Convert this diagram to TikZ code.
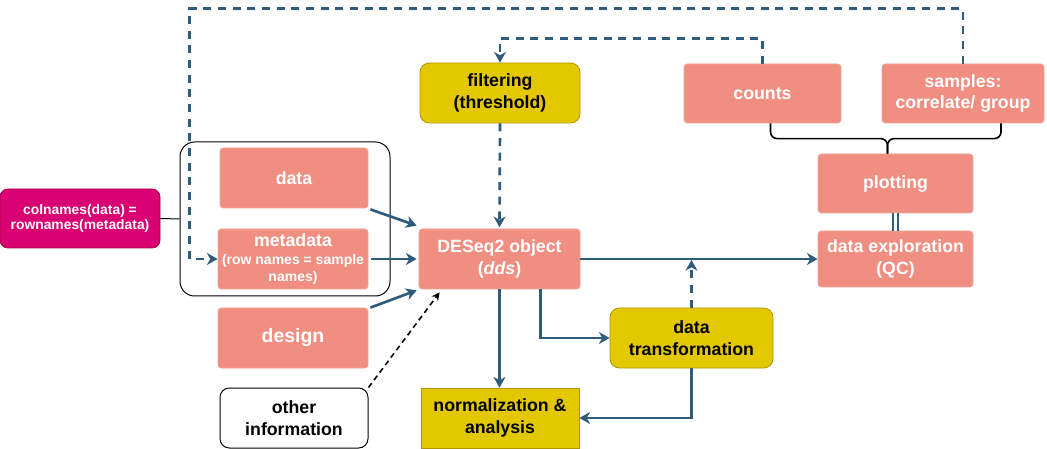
\documentclass[tikz,border=0pt]{standalone}
\usepackage{fontspec}
\setmainfont{Liberation Sans}
\usetikzlibrary{arrows.meta,calc}
\definecolor{salmon}{HTML}{F08E81}
\definecolor{salmonb}{HTML}{F3A397}
\definecolor{magent}{HTML}{D80073}
\definecolor{magentb}{HTML}{A50040}
\definecolor{ylw}{HTML}{E3C800}
\definecolor{ylwb}{HTML}{B09500}
\definecolor{flow}{HTML}{2F5B7C}
\newcommand\subfnt{\fontsize{10.5}{12.5}\selectfont}
\tikzset{
  base/.style={inner sep=0pt, align=center, font=\bfseries\fontsize{13.3}{16}\selectfont},
  pinkbox/.style={base, fill=salmon, draw=salmonb, line width=0.6pt, rounded corners=2.5pt, text=white},
  yelbox/.style={base, fill=ylw, draw=ylwb, line width=0.6pt, rounded corners=7pt, text=black},
  sqyel/.style={base, fill=ylw, draw=ylwb, line width=0.6pt, text=black},
  magbox/.style={base, fill=magent, draw=magentb, line width=0.6pt, rounded corners=6pt, text=white,
     font=\bfseries\fontsize{10.4}{11.5}\selectfont},
  whitebox/.style={base, fill=white, draw=black, line width=0.75pt, rounded corners=7pt, text=black},
  flowarrow/.style={draw=flow, line width=2pt, -{Stealth[length=8pt,width=9pt,inset=2.5pt]}},
  flowdash/.style={flowarrow, dash pattern=on 6pt off 5pt},
  blkdash/.style={draw=black, line width=1.2pt, dash pattern=on 4pt off 3pt, -{Stealth[length=6pt,width=6pt,inset=2pt]}},
}
\begin{document}
\begin{tikzpicture}[x=0.75pt,y=-0.75pt]
\useasboundingbox[fill=white] (0,0) rectangle (1047,449);
% group
\node[draw=black, line width=0.75pt, rounded corners=11pt, minimum width=157.5pt, minimum height=115.5pt] (group) at (285,219) {};
% nodes
\node[magbox, minimum width=120pt, minimum height=44.25pt] (coln) at (80,218.5) {colnames(data) =\\rownames(metadata)};
\node[pinkbox, minimum width=111pt, minimum height=45pt] (data) at (294,178) {data};
\node[pinkbox, minimum width=112.5pt, minimum height=45pt] (meta) at (293,259) {metadata\\[-2pt]{\subfnt (row names = sample}\\[-3.5pt]{\subfnt names)}};
\node[pinkbox, minimum width=112.5pt, minimum height=45pt, font=\bfseries\fontsize{14.6}{17}\selectfont] (design) at (293,338) {design};
\node[whitebox, minimum width=111pt, minimum height=45pt] (other) at (294,418) {other\\information};
\node[yelbox, minimum width=120pt, minimum height=45pt] (filt) at (500,93) {filtering\\(threshold)};
\node[pinkbox, minimum width=120.75pt, minimum height=45pt] (dds) at (499.5,259) {DESeq2 object\\(\textit{dds})};
\node[sqyel, minimum width=118.5pt, minimum height=45pt] (norm) at (500,418) {normalization \&\\analysis};
\node[yelbox, minimum width=122.25pt, minimum height=45pt] (trans) at (691.5,338) {data\\transformation};
\node[pinkbox, minimum width=117.75pt, minimum height=44.25pt] (counts) at (762.5,93.5) {counts};
\node[pinkbox, minimum width=121.5pt, minimum height=44.25pt] (samples) at (963,93.5) {samples:\\correlate/ group};
\node[pinkbox, minimum width=116.25pt, minimum height=44.25pt] (plot) at (895.5,183.5) {plotting};
\node[pinkbox, minimum width=116.25pt, minimum height=42pt] (explo) at (895.5,259) {data exploration\\(QC)};
% connectors
\draw[black, line width=0.75pt] (coln.east) -- (group.west);
\draw[flowarrow] ($(data.south east)+(2,1)$) -- ($(dds.north west)+(-2,-3)$);
\draw[flowarrow, shorten <=2pt, shorten >=1.5pt] (meta.east) -- (dds.west);
\draw[flowarrow] ($(design.north east)+(2,0)$) -- ($(dds.south west)+(-2,1)$);
\draw[blkdash] (other.north east) -- ($(dds.south west)+(21,3)$);
\draw[flowdash, shorten >=1pt] (filt.south) -- (dds.north);
\draw[flowdash] (counts.north) -- ++(0,-25) -| (filt.north);
\coordinate (sbend) at ($(group.west |- meta.west)+(10,0)$);
\draw[flowdash] (samples.north) -- ++(0,-55) -| (sbend) -- (meta.west);
\draw[flowarrow] (dds.east) -- (explo.west);
\draw[flowarrow] (dds.south) -- (dds.south |- norm.north);
\draw[flowarrow] ($(dds.south)+(41,0)$) |- (trans.west);
\draw[flowarrow] (trans.south) |- (norm.east);
\draw[flowdash] (trans.north) -- ($(trans.north |- dds.east)+(0,1)$);
\draw[flow, line width=1.6pt, double=white, double distance=2pt] (plot.south) -- (explo.north);
% brace
\coordinate (bl) at ($(counts.south)+(8,0)$);
\coordinate (br) at ($(samples.south)+(38,0)$);
\coordinate (bt) at ($(plot.north)+(-8,-15)$);
\coordinate (bc) at ($(plot.north)+(-8,0)$);
\draw[black, line width=1.2pt, rounded corners=5pt] (bl) |- (bt) -- (bc);
\draw[black, line width=1.2pt, rounded corners=5pt] (br) |- (bt) -- (bc);
\end{tikzpicture}
\end{document}
